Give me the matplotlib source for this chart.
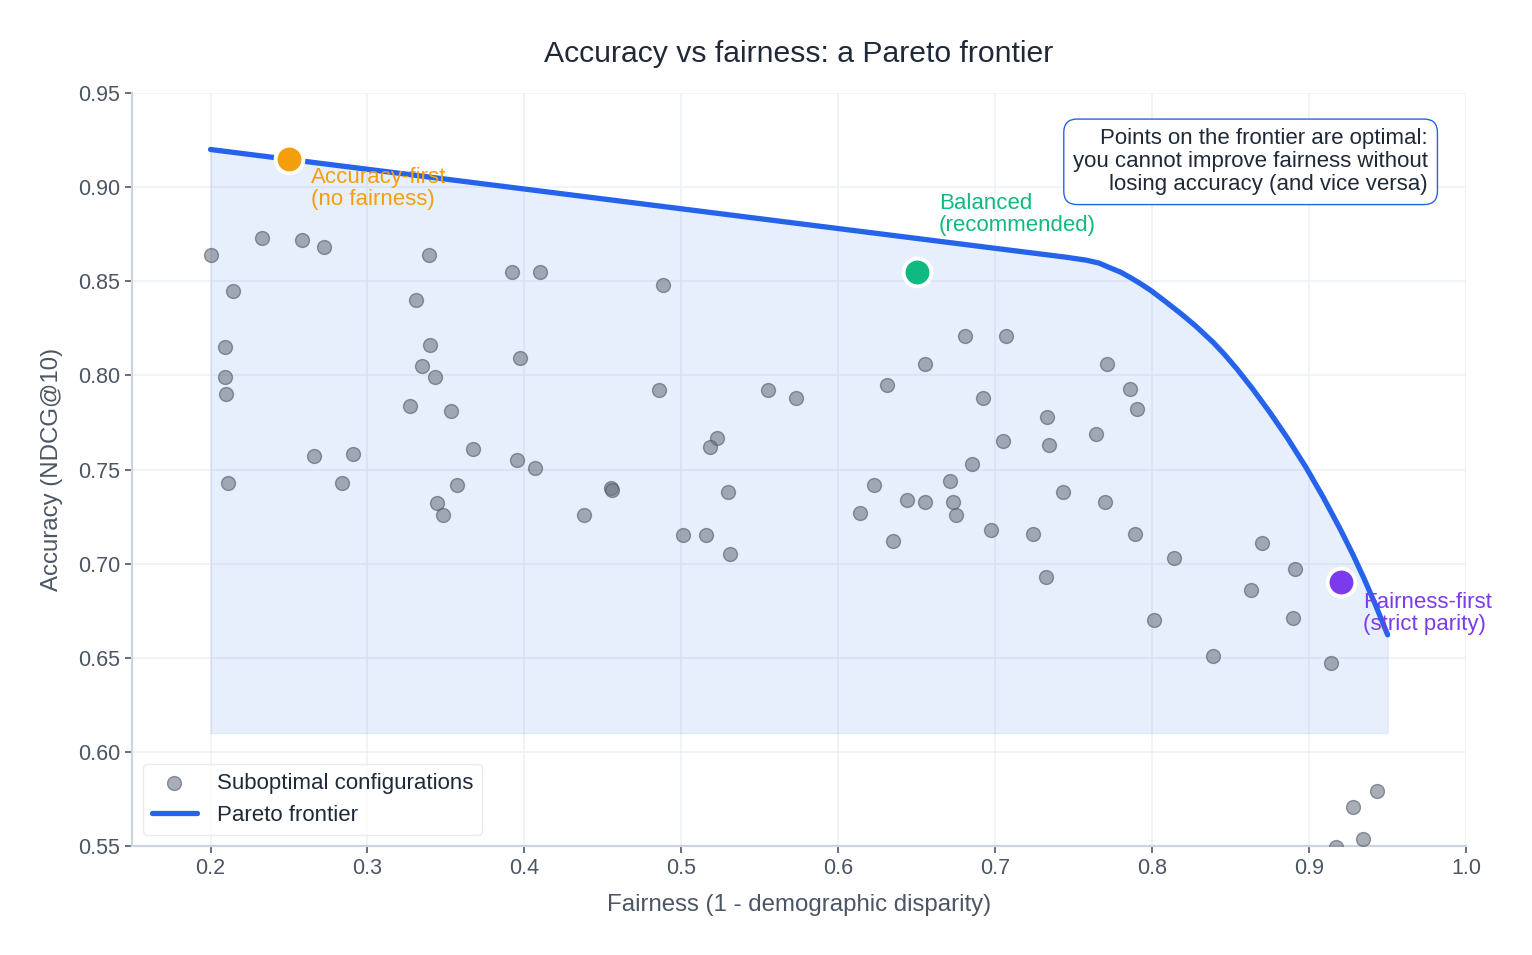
import matplotlib.pyplot as plt

plt.rcParams['font.family'] = ['Liberation Sans', 'DejaVu Sans']

# suboptimal configurations (fairness, accuracy)
sub_fair = [0.200, 0.233, 0.258, 0.272, 0.339, 0.392, 0.410, 0.214, 0.331, 0.209,
            0.340, 0.397, 0.335, 0.209, 0.343, 0.210, 0.327, 0.353, 0.367, 0.266,
            0.291, 0.395, 0.407, 0.211, 0.284, 0.357, 0.344, 0.348, 0.438, 0.488,
            0.486, 0.555, 0.573, 0.681, 0.707, 0.655, 0.631, 0.692, 0.733, 0.705,
            0.734, 0.685, 0.523, 0.518, 0.455, 0.456, 0.530, 0.623, 0.671, 0.644,
            0.655, 0.673, 0.675, 0.614, 0.743, 0.501, 0.516, 0.531, 0.635, 0.697,
            0.724, 0.732, 0.771, 0.786, 0.790, 0.764, 0.770, 0.789, 0.814, 0.870,
            0.891, 0.863, 0.890, 0.801, 0.839, 0.914, 0.943, 0.928, 0.934, 0.917]
sub_acc = [0.864, 0.873, 0.872, 0.868, 0.864, 0.855, 0.855, 0.845, 0.840, 0.815,
           0.816, 0.809, 0.805, 0.799, 0.799, 0.790, 0.784, 0.781, 0.761, 0.757,
           0.758, 0.755, 0.751, 0.743, 0.743, 0.742, 0.732, 0.726, 0.726, 0.848,
           0.792, 0.792, 0.788, 0.821, 0.821, 0.806, 0.795, 0.788, 0.778, 0.765,
           0.763, 0.753, 0.767, 0.762, 0.740, 0.739, 0.738, 0.742, 0.744, 0.734,
           0.733, 0.733, 0.726, 0.727, 0.738, 0.715, 0.715, 0.705, 0.712, 0.718,
           0.716, 0.693, 0.806, 0.793, 0.782, 0.769, 0.733, 0.716, 0.703, 0.711,
           0.697, 0.686, 0.671, 0.670, 0.651, 0.647, 0.579, 0.571, 0.554, 0.5495]

# Pareto frontier
front_fair = [0.20, 0.30, 0.40, 0.50, 0.60, 0.70, 0.745, 0.758, 0.766, 0.773,
              0.780, 0.786, 0.792, 0.799, 0.808, 0.818, 0.828, 0.839, 0.846,
              0.854, 0.864, 0.875, 0.886, 0.898, 0.909, 0.920, 0.928, 0.935,
              0.942, 0.950]
front_acc = [0.920, 0.9095, 0.899, 0.8885, 0.878, 0.8675, 0.8628, 0.8612, 0.8597, 0.8572,
             0.8548, 0.8520, 0.8490, 0.8452, 0.8395, 0.8330, 0.8260, 0.8174, 0.8112,
             0.8034, 0.7928, 0.7803, 0.7669, 0.7511, 0.7352, 0.7180, 0.7046, 0.6920,
             0.6786, 0.6622]
fill_floor = 0.61

# highlighted operating points
key_names = ['Accuracy-first\n(no fairness)', 'Balanced\n(recommended)',
             'Fairness-first\n(strict parity)']
key_fair = [0.25, 0.65, 0.92]
key_acc = [0.915, 0.855, 0.69]
key_colors = ['#f59e0b', '#10b981', '#7c3aed']
key_offsets = [(16, -6), (16, 26), (16, -7)]
key_va = ['top', 'bottom', 'top']

fig = plt.figure(figsize=(15.32, 9.55), dpi=100)
ax = fig.add_axes([0.0862, 0.1141, 0.8708, 0.7885])

ax.fill_between(front_fair, fill_floor, front_acc, color='#2563eb', alpha=0.1,
                edgecolor='#2563eb', linewidth=0.8, zorder=1)
ax.scatter(sub_fair, sub_acc, s=100, color='#6b7280', alpha=0.58,
           edgecolors='#4b5563', linewidths=1, zorder=3,
           label='Suboptimal configurations')
ax.plot(front_fair, front_acc, color='#2563eb', linewidth=3.8,
        solid_capstyle='round', solid_joinstyle='round', zorder=4,
        label='Pareto frontier')

for name, fx, fy, c, off, va in zip(key_names, key_fair, key_acc, key_colors,
                                    key_offsets, key_va):
    ax.scatter([fx], [fy], s=400, color=c, edgecolors='white', linewidths=2.8,
               zorder=5)
    ax.annotate(name, (fx, fy), xytext=off, textcoords='offset points',
                ha='left', va=va, color=c, fontsize=16, linespacing=1.02,
                zorder=6)

ax.text(0.9715, 0.953,
        'Points on the frontier are optimal:\nyou cannot improve fairness without\n'
        'losing accuracy (and vice versa)',
        transform=ax.transAxes, ha='right', va='top', fontsize=16,
        color='#1f2937', linespacing=1.12, zorder=7,
        bbox=dict(boxstyle='round,pad=0.42,rounding_size=0.6', facecolor='white',
                  edgecolor='#2563eb', linewidth=1))

ax.set_xlim(0.15, 1.0)
ax.set_ylim(0.55, 0.95)
ax.set_xticks([0.2, 0.3, 0.4, 0.5, 0.6, 0.7, 0.8, 0.9, 1.0])
ax.set_yticks([0.55, 0.60, 0.65, 0.70, 0.75, 0.80, 0.85, 0.90, 0.95])
ax.set_yticklabels(['0.55', '0.60', '0.65', '0.70', '0.75', '0.80', '0.85',
                    '0.90', '0.95'])
ax.grid(True, color='#eef1f6', linewidth=1.2, zorder=0)
ax.set_axisbelow(True)

for side in ['top', 'right']:
    ax.spines[side].set_visible(False)
for side in ['left', 'bottom']:
    ax.spines[side].set_color('#cbd5e1')
    ax.spines[side].set_linewidth(1.6)
ax.tick_params(axis='both', labelsize=15.5, colors='#4b5563', length=5,
               width=1.2, labelcolor='#4b5563')

ax.set_title('Accuracy vs fairness: a Pareto frontier', fontsize=21.7, color='#1f2937',
             pad=22)
ax.set_xlabel('Fairness (1 - demographic disparity)', fontsize=17.3, color='#4b5563',
              labelpad=11)
ax.set_ylabel('Accuracy (NDCG@10)', fontsize=17.3, color='#4b5563', labelpad=11)

leg = ax.legend(loc='lower left', fontsize=16, frameon=True, fancybox=True,
                borderaxespad=0.5, handletextpad=0.9)
leg.get_frame().set_edgecolor('#e5e7eb')
leg.get_frame().set_linewidth(1)
for t in leg.get_texts():
    t.set_color('#1f2937')

fig.savefig('out.png', dpi=100)
